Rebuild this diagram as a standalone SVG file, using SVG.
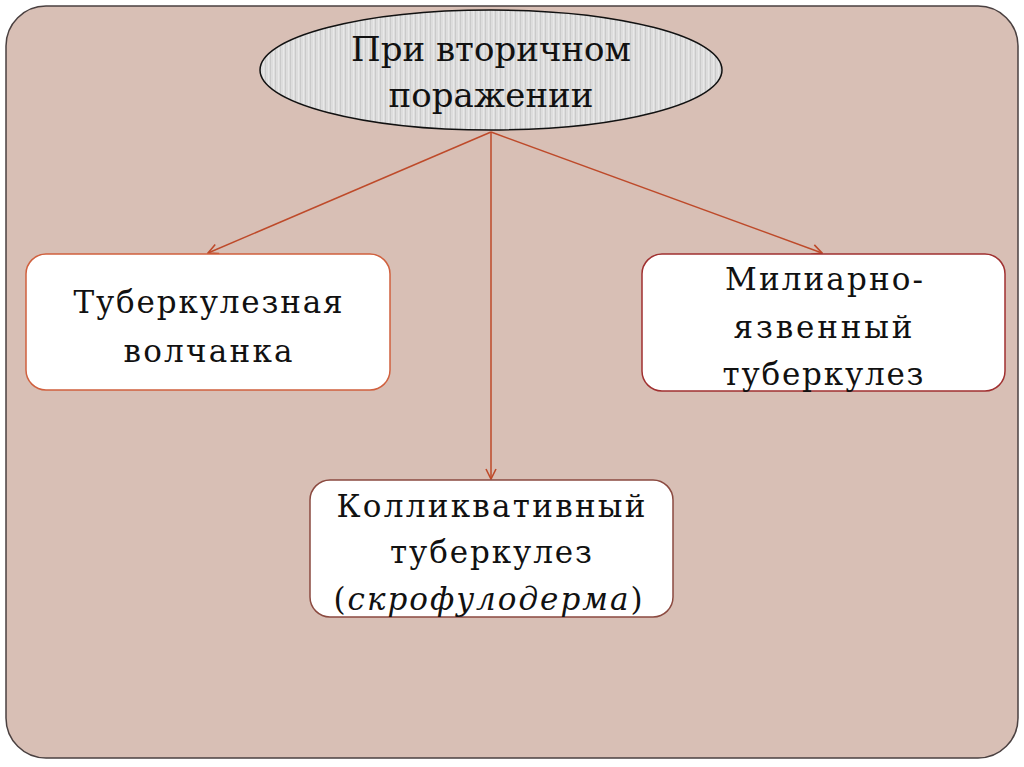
<svg xmlns="http://www.w3.org/2000/svg" width="1024" height="767" viewBox="0 0 1024 767">
<style>
.t{font-family:"DejaVu Serif","Liberation Serif",serif;font-size:31px;fill:#111;text-anchor:middle}
.r{font-size:34px}
.box{fill:#fff;stroke-width:1.5}
.conn{stroke:#BE4A2A;stroke-width:1.5;fill:none;marker-end:url(#ah)}
</style>
<defs>
<pattern id="stripes" width="5" height="10" patternUnits="userSpaceOnUse">
<rect width="5" height="10" fill="#DDDDDD"/>
<rect x="0" width="1" height="10" fill="#CACACA"/>
<rect x="3" width="1" height="10" fill="#E8E8E8"/>
</pattern>
<marker id="ah" viewBox="0 0 12 12" refX="11" refY="6" markerWidth="12" markerHeight="12" markerUnits="userSpaceOnUse" orient="auto">
<path d="M1,1 L11,6 L1,11" fill="none" stroke="#BE4A2A" stroke-width="1.6"/>
</marker>
</defs>
<rect width="1024" height="767" fill="#fff"/>
<rect x="6" y="6" width="1012" height="752" rx="40" ry="40" fill="#D8BFB5" stroke="#4a4040" stroke-width="1.5"/>
<g id="connectors">
<line class="conn" x1="491" y1="132" x2="208" y2="253"/>
<line class="conn" x1="491" y1="132" x2="491" y2="479"/>
<line class="conn" x1="491" y1="132" x2="822" y2="253"/>
</g>
<g id="root">
<ellipse cx="491" cy="70" rx="231" ry="60" fill="url(#stripes)" stroke="#111" stroke-width="1.5"/>
<text class="t r" x="491" y="61" textLength="280" lengthAdjust="spacing">При вторичном</text>
<text class="t r" x="491" y="107" textLength="205" lengthAdjust="spacing">поражении</text>
</g>
<g id="lupus">
<rect class="box" x="26" y="254" width="364" height="136" rx="20" stroke="#D0603E"/>
<text class="t" x="208" y="313" textLength="269" lengthAdjust="spacing">Туберкулезная</text>
<text class="t" x="208" y="362" textLength="169" lengthAdjust="spacing">волчанка</text>
</g>
<g id="miliary">
<rect class="box" x="642" y="254" width="363" height="137" rx="20" stroke="#A03030"/>
<text class="t" x="824" y="290" textLength="198" lengthAdjust="spacing">Милиарно-</text>
<text class="t" x="823" y="338" textLength="179" lengthAdjust="spacing">язвенный</text>
<text class="t" x="823" y="385" textLength="201" lengthAdjust="spacing">туберкулез</text>
</g>
<g id="colliquative">
<rect class="box" x="310" y="480" width="363" height="137" rx="20" stroke="#8B4A40"/>
<text class="t" x="491" y="517" textLength="309" lengthAdjust="spacing">Колликвативный</text>
<text class="t" x="491" y="563" textLength="202" lengthAdjust="spacing">туберкулез</text>
<text class="t" x="488" y="610" textLength="309" lengthAdjust="spacing">(<tspan font-style="italic">скрофулодерма</tspan>)</text>
</g>
</svg>
